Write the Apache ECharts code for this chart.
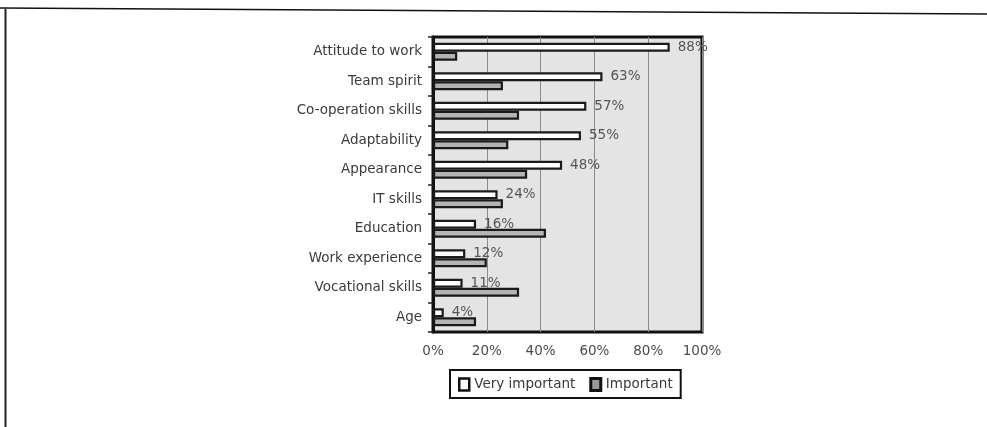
<!DOCTYPE html>
<html>
<head>
<meta charset="utf-8">
<script src="https://cdn.jsdelivr.net/npm/echarts@6/dist/echarts.min.js"></script>
<style>
  html, body { margin: 0; padding: 0; background: #fff; }
  #chart { width: 987px; height: 427px; }
</style>
</head>
<body>
<div id="chart"></div>
<script>
// Attributes listed top to bottom
const categories = ['Attitude to work', 'Team spirit', 'Co-operation skills', 'Adaptability', 'Appearance',
  'IT skills', 'Education', 'Work experience', 'Vocational skills', 'Age'];
const veryImportant = [88, 63, 57, 55, 48, 24, 16, 12, 11, 4];
const important = [9, 26, 32, 28, 35, 26, 42, 20, 32, 16];
const xTicks = [0, 20, 40, 60, 80, 100];

const chart = echarts.init(document.getElementById('chart'));
const textColor = '#3a3a3a';
const font = '"DejaVu Sans", Verdana, sans-serif';

chart.setOption({
  backgroundColor: '#ffffff',
  animation: false,
  textStyle: { fontFamily: font },
  grid: {
    left: 433, right: 285, top: 37, bottom: 95,
    show: true, backgroundColor: '#e4e4e4', borderColor: '#111', borderWidth: 3
  },
  xAxis: {
    type: 'value', min: xTicks[0], max: xTicks[xTicks.length - 1], interval: 20,
    axisLine: { show: false },
    axisTick: { show: false },
    axisLabel: { color: '#4a4a4a', fontSize: 13.5, margin: 12, formatter: '{value}%' },
    splitLine: { show: true, lineStyle: { color: '#8a8a8a', width: 1 } }
  },
  yAxis: {
    type: 'category', data: categories, inverse: true,
    axisLine: { show: true, lineStyle: { color: '#111', width: 3 } },
    axisTick: { show: true, length: 5, lineStyle: { color: '#222', width: 1.5 } },
    axisLabel: { color: textColor, fontSize: 13.5, margin: 11 }
  },
  legend: {
    bottom: 29, left: 450,
    data: [
      { name: 'Very important', itemStyle: { color: '#ffffff', borderColor: '#111', borderWidth: 2.5 } },
      { name: 'Important', itemStyle: { color: '#9a9a9a', borderColor: '#111', borderWidth: 3 } }
    ],
    icon: 'rect', itemWidth: 10, itemHeight: 12, itemGap: 14,
    borderColor: '#111', borderWidth: 2, padding: [7, 8, 6, 8],
    textStyle: { color: textColor, fontSize: 13.5, fontFamily: font }
  },
  series: [
    {
      name: 'Very important', type: 'bar', data: veryImportant,
      barWidth: 9, barGap: '0%',
      itemStyle: { color: '#ffffff', borderColor: '#1a1a1a', borderWidth: 2.2 },
      label: { show: true, position: 'right', distance: 8, offset: [0, 0],
        formatter: '{c}%', color: '#555', fontSize: 13.5, fontFamily: font }
    },
    {
      name: 'Important', type: 'bar', data: important,
      barWidth: 9,
      itemStyle: { color: '#b4b4b4', borderColor: '#1a1a1a', borderWidth: 2.2 }
    }
  ],
  graphic: [
    { type: 'line', shape: { x1: 0, y1: 8, x2: 987, y2: 14 }, style: { stroke: '#111', lineWidth: 1.5 } },
    { type: 'line', shape: { x1: 5.5, y1: 9, x2: 5.5, y2: 427 }, style: { stroke: '#222', lineWidth: 2 } }
  ]
});
</script>
</body>
</html>
